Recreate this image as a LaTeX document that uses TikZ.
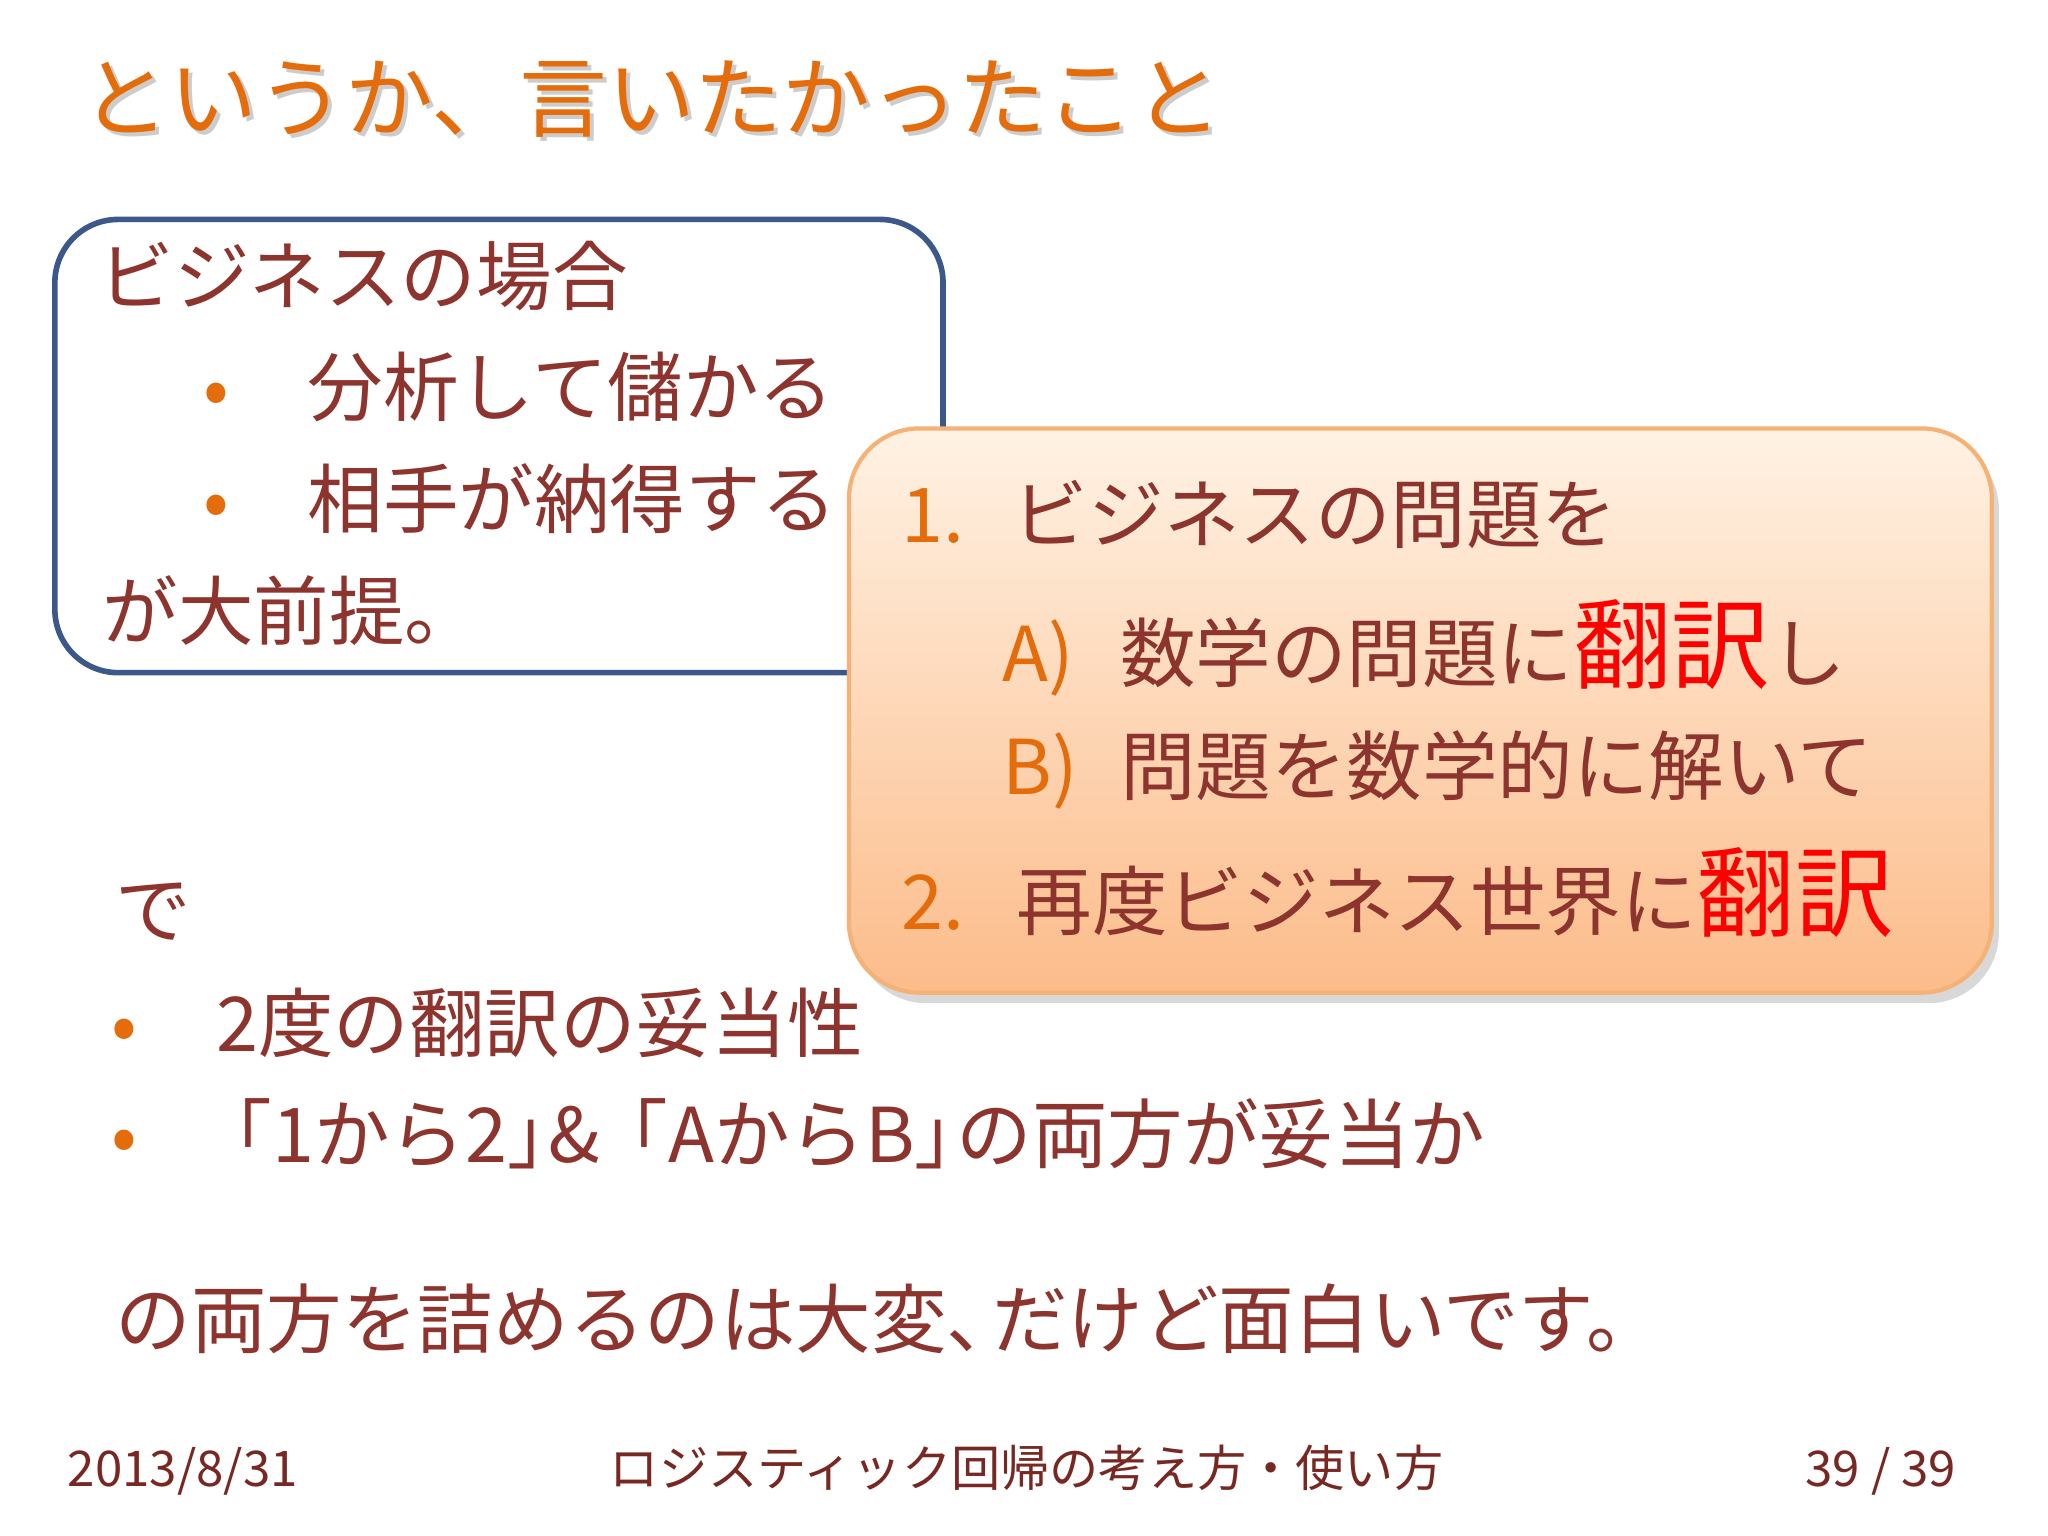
\documentclass[tikz,border=0pt]{standalone}
\usepackage{fontspec}
\setmainfont{Noto Sans CJK JP}
\usetikzlibrary{shadows}
\definecolor{txt}{RGB}{140,52,45}
\definecolor{org}{RGB}{228,108,10}
\definecolor{bblue}{RGB}{60,88,138}
\definecolor{ptop}{RGB}{255,242,228}
\definecolor{pbot}{RGB}{252,188,138}
\definecolor{pbord}{RGB}{244,178,118}
\definecolor{foot}{RGB}{120,40,35}
\tikzset{
  t/.style={anchor=base west,inner sep=0pt,text=txt,font=\fontsize{21.5pt}{24pt}\selectfont},
  bul/.style={anchor=base west,inner sep=0pt,text=org,font=\fontsize{21.5pt}{24pt}\selectfont},
  ft/.style={anchor=base,inner sep=0pt,text=foot,font=\fontsize{14pt}{16pt}\selectfont}
}
\newcommand{\hon}{\textcolor{red}{\fontsize{28pt}{30pt}\selectfont 翻訳}}
\begin{document}
\begin{tikzpicture}[x=0.01306cm,y=-0.01306cm]
\useasboundingbox (0,0) rectangle (1568,1176);
\fill[white] (0,0) rectangle (1568,1176);
% title
\node[anchor=base west,inner sep=0pt,text=gray!40,font=\fontsize{25pt}{28pt}\selectfont] at (65,103) {というか、言いたかったこと};
\node[anchor=base west,inner sep=0pt,text=org,font=\fontsize{25pt}{28pt}\selectfont] (title) at (62,100) {というか、言いたかったこと};
% box 1
\draw[bblue,line width=1.6pt,rounded corners=18pt] (42,168) rectangle (722,515);
\node[t] (b1) at (75,233) {ビジネスの場合};
\node[bul] (d1) at (155,318) {•};
\node[t] (b2) at (235,318) {分析して儲かる};
\node[bul] (d2) at (155,404) {•};
\node[t] (b3) at (235,404) {相手が納得する};
\node[t] (b4) at (78,490) {が大前提。};
% box 2
\shade[top color=ptop,bottom color=pbot,rounded corners=20pt,draw=pbord,line width=1.2pt,drop shadow={opacity=0.3,shadow xshift=2pt,shadow yshift=-3pt}] (650,328) rectangle (1525,760);
\node[bul] (n1) at (690,415) {1.};
\node[t] (o1) at (775,415) {ビジネスの問題を};
\node[bul] (na) at (767,522) {A)};
\node[t] (oa) at (857,522) {数学の問題に\hon し};
\node[bul] (nb) at (767,608) {B)};
\node[t] (ob) at (857,608) {問題を数学的に解いて};
\node[bul] (n2) at (690,712) {2.};
\node[t] (o2) at (778,712) {再度ビジネス世界に\hon};
% lower text
\node[t] (de) at (88,718) {で};
\node[bul] (d3) at (85,805) {•};
\node[t] (c1) at (165,805) {2度の翻訳の妥当性};
\node[bul] (d4) at (85,890) {•};
\node[t] (c2) at (150,890) {「1から2」\kern-0.45em\&\kern-0.1em「AからB」\kern-0.45em の両方が妥当か};
\node[t] (fin) at (88,1032) {の両方を詰めるのは大変、\kern-0.4em だけど面白いです。};
% footer
\node[ft] (f1) at (140,1138) {2013/8/31};
\node[ft] (f2) at (786,1138) {ロジスティック回帰の考え方・使い方};
\node[ft] (f3) at (1440,1138) {39 / 39};
\end{tikzpicture}
\end{document}
